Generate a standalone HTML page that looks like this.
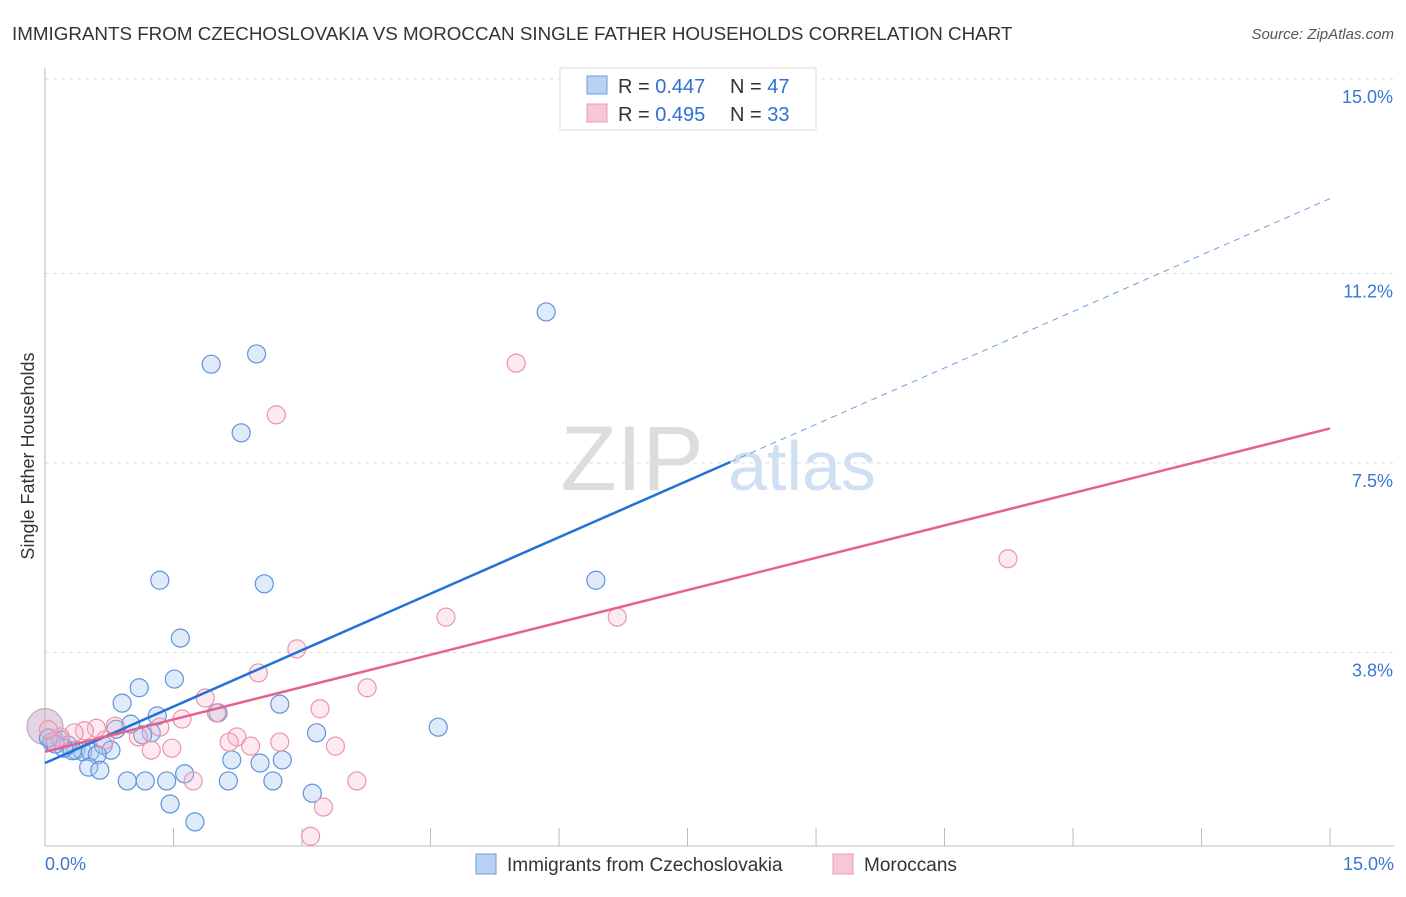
<!DOCTYPE html>
<html><head><meta charset="utf-8"><style>
body{margin:0;background:#fff;font-family:"Liberation Sans",sans-serif;}
svg text{font-family:"Liberation Sans",sans-serif;}
</style></head><body>
<svg id="c" width="1406" height="892" viewBox="0 0 1406 892">
<text x="12" y="40" font-size="18.8" fill="#333">IMMIGRANTS FROM CZECHOSLOVAKIA VS MOROCCAN SINGLE FATHER HOUSEHOLDS CORRELATION CHART</text>
<text x="1394" y="39" font-size="15" fill="#555" font-style="italic" text-anchor="end">Source: ZipAtlas.com</text>
<g><text x="632" y="490" font-size="92" fill="#ddd" font-family="Liberation Serif" text-anchor="middle">ZIP</text><text x="802" y="490" font-size="70" fill="#cfe0f3" text-anchor="middle">atlas</text></g>
<text transform="translate(34,456) rotate(-90)" font-size="18" fill="#333" text-anchor="middle">Single Father Households</text>
<g id="grid"></g><g id="marks"></g>
<g>
<rect x="560" y="68" width="256" height="62" fill="#fff" stroke="#ddd"/>
<rect x="587" y="76" width="20" height="18" fill="#b8d2f4" stroke="#6b9ee0"/>
<rect x="587" y="104" width="20" height="18" fill="#f9c6d5" stroke="#ec9ab3"/>
<text x="618" y="93" font-size="20" fill="#333">R = <tspan fill="#2f6fd6">0.447</tspan></text>
<text x="730" y="93" font-size="20" fill="#333">N = <tspan fill="#2f6fd6">47</tspan></text>
<text x="618" y="121" font-size="20" fill="#333">R = <tspan fill="#2f6fd6">0.495</tspan></text>
<text x="730" y="121" font-size="20" fill="#333">N = <tspan fill="#2f6fd6">33</tspan></text>
</g>
<g>
<rect x="476" y="854" width="20" height="20" fill="#b8d2f4" stroke="#6b9ee0"/>
<text x="507" y="871" font-size="19" fill="#333">Immigrants from Czechoslovakia</text>
<rect x="833" y="854" width="20" height="20" fill="#f9c6d5" stroke="#ec9ab3"/>
<text x="864" y="871" font-size="19" fill="#333">Moroccans</text>
</g>
</svg>
<script>
const yTicks=[3.8,7.5,11.2,15.0];
const yTickLabels=["3.8%","7.5%","11.2%","15.0%"];
const xTicks=[0,1.5,3,4.5,6,7.5,9,10.5,12,13.5,15];
const blueX=[5.85,1.94,2.47,2.29,1.34,2.56,6.43,1.58,1.51,1.10,0.90,1.31,2.02,2.74,1.00,0.83,1.24,1.14,3.17,4.59,0.18,0.27,0.08,0.36,0.44,0.53,0.68,0.77,0.61,0.32,0.22,0.51,0.64,0.96,1.17,1.42,1.63,2.14,2.18,2.51,2.77,2.66,3.12,1.46,1.75,0.12,0.04];
const blueY=[10.45,9.43,9.63,8.09,5.21,5.14,5.21,4.08,3.28,3.11,2.81,2.56,2.62,2.79,2.40,2.30,2.23,2.19,2.23,2.34,2.09,1.99,2.05,1.89,1.86,1.86,1.99,1.89,1.80,1.88,1.93,1.56,1.50,1.29,1.29,1.29,1.43,1.29,1.70,1.64,1.70,1.29,1.05,0.84,0.49,2.01,2.13];
const pinkX=[5.50,2.70,11.24,4.68,6.68,2.94,2.49,3.76,1.87,1.60,3.21,2.00,1.34,0.82,0.60,0.46,0.34,0.18,0.12,1.09,0.70,2.24,2.15,2.40,2.74,3.39,1.48,1.24,1.73,3.64,3.25,3.10,0.04];
const pinkY=[9.45,8.44,5.63,4.49,4.49,3.87,3.40,3.11,2.91,2.50,2.70,2.62,2.34,2.36,2.32,2.27,2.23,2.15,2.07,2.15,2.09,2.15,2.05,1.97,2.05,1.97,1.93,1.89,1.29,1.29,0.78,0.21,2.29];
const blueLine=[1.64,0.735], pinkLine=[1.86,0.421];
const X=v=>45+v*85.67, Y=v=>847-v*51.2;
const NS="http://www.w3.org/2000/svg";
function mk(t,a,p){const e=document.createElementNS(NS,t);for(const k in a)e.setAttribute(k,a[k]);p.appendChild(e);return e;}
const g=document.getElementById('grid'),m=document.getElementById('marks');
yTicks.forEach((t,i)=>{const l=mk('line',{x1:45,x2:1394,y1:Y(t),y2:Y(t),stroke:'#ddd','stroke-dasharray':'4,4'},g);


const tx=mk('text',{x:1393,y:Y(t)+24,'font-size':18,fill:'#3a75d6','text-anchor':'end'},g);tx.textContent=yTickLabels[i];

});
mk('line',{x1:45,x2:1394,y1:79,y2:79,stroke:'#ddd','stroke-dasharray':'4,4'},g);
const ax=mk('line',{x1:45,x2:45,y1:68,y2:846,stroke:'#bbb'},g);


const bx=mk('line',{x1:45,x2:1394,y1:846,y2:846,stroke:'#bbb'},g);


xTicks.forEach(t=>{const l=mk('line',{x1:X(t),x2:X(t),y1:828,y2:846,stroke:'#bbb'},g);

});
const x0=mk('text',{x:45,y:870,'font-size':18,fill:'#3a75d6'},g);x0.textContent='0.0%';


const x1=mk('text',{x:1394,y:870,'font-size':18,fill:'#3a75d6','text-anchor':'end'},g);x1.textContent='15.0%';


const big=mk('circle',{cx:X(0),cy:Y(2.35),r:18,fill:'rgba(200,170,200,0.5)',stroke:'#c49ab8'},m);


blueX.forEach((v,i)=>{const c=mk('circle',{cx:X(v),cy:Y(blueY[i]),r:9,fill:'rgba(165,198,240,0.35)',stroke:'#5f93db','stroke-width':1.2},m);

});
pinkX.forEach((v,i)=>{const c=mk('circle',{cx:X(v),cy:Y(pinkY[i]),r:9,fill:'rgba(248,185,205,0.3)',stroke:'#eb94af','stroke-width':1.2},m);

});
const b1=mk('line',{x1:X(0),y1:Y(blueLine[0]),x2:X(8),y2:Y(blueLine[0]+8*blueLine[1]),stroke:'#2270d8','stroke-width':2.5},m);


const b2=mk('line',{x1:X(8),y1:Y(blueLine[0]+8*blueLine[1]),x2:X(15),y2:Y(blueLine[0]+15*blueLine[1]),stroke:'#6b9ee0','stroke-width':1,'stroke-dasharray':'6,5'},m);


const p1=mk('line',{x1:X(0),y1:Y(pinkLine[0]),x2:X(15),y2:Y(pinkLine[0]+15*pinkLine[1]),stroke:'#e5628d','stroke-width':2.5},m);


</script>
</body></html>
